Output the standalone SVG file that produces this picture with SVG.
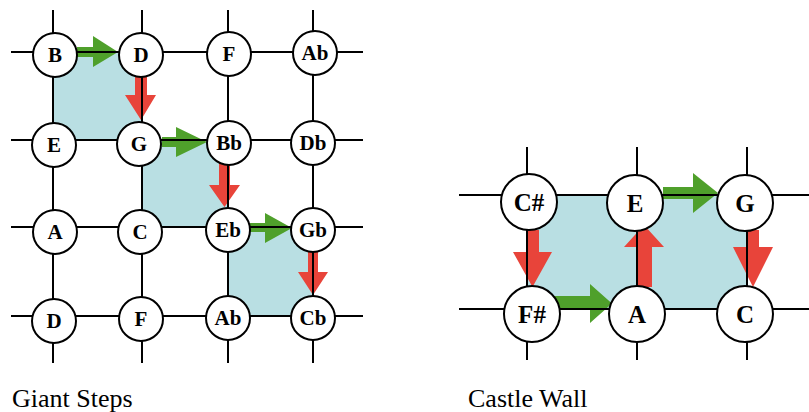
<svg xmlns="http://www.w3.org/2000/svg" width="809" height="412" viewBox="0 0 809 412">
<style>
.bg{fill:#ffffff}
.shade{fill:#b9dfe3}
.grid{stroke:#000;stroke-width:2;fill:none}
.green{fill:#4fa02b}
.red{fill:#e8443a}
.node circle{fill:#fff;stroke:#000;stroke-width:2}
.lbl{font-family:'Liberation Serif','Times New Roman',serif;font-weight:bold;text-anchor:middle;fill:#000}
.sm{font-size:21px}
.lg{font-size:25px}
.cap{font-family:'Liberation Serif','Times New Roman',serif;font-size:26px;fill:#000}
</style>
<rect class="bg" x="0" y="0" width="809" height="412"/>
<g id="shading">
<rect class="shade" x="53" y="52" width="89" height="88"/>
<rect class="shade" x="142" y="140" width="86" height="87"/>
<rect class="shade" x="228" y="227" width="85" height="89"/>
<rect class="shade" x="527" y="195" width="220" height="114"/>
</g>
<g id="connectors">
<polygon class="green" points="77,47 93,47 93,36 118,52 93,67 93,57 77,57"/>
<polygon class="red" points="135,77 147,77 147,95 156,95 141,120 125,95 135,95"/>
<polygon class="green" points="162,137 176,137 176,127 207,142 176,157 176,147 162,147"/>
<polygon class="red" points="219,158 230,158 230,185 240,185 224.5,207 209,185 219,185"/>
<polygon class="green" points="250,223 265,223 265,213 292,228 265,243 265,232 250,232"/>
<polygon class="red" points="308,252 318,252 318,272 328,272 313,295 298,272 308,272"/>
<polygon class="red" points="527,230 539,230 539,252 552,252 532.5,287 513,252 527,252"/>
<polygon class="green" points="553,296 590,296 590,284 612,303.5 590,323 590,309 553,309"/>
<polygon class="red" points="637,287 652,287 652,247 664,247 644,225 624,247 637,247"/>
<polygon class="green" points="663,187 693,187 693,173 718,193 693,213 693,199 663,199"/>
<polygon class="red" points="747,230 759,230 759,247 773,247 753,287 733,247 747,247"/>
<g class="grid">
<path d="M11,52H363M11,140H363M11,227H363M11,316H363"/>
<path d="M53,10V363M142,10V363M228,10V363M313,10V363"/>
<path d="M459,195H809M459,309H809"/>
<path d="M527,147V360M637,147V360M747,147V360"/>
</g>
</g>
<g id="n-B" class="node"><circle cx="55" cy="55" r="22"/><text class="lbl sm" x="55" y="62">B</text></g>
<g id="n-D1" class="node"><circle cx="141" cy="55" r="22"/><text class="lbl sm" x="141" y="62">D</text></g>
<g id="n-F1" class="node"><circle cx="229" cy="54" r="22"/><text class="lbl sm" x="229" y="61">F</text></g>
<g id="n-Ab1" class="node"><circle cx="315" cy="53" r="22"/><text class="lbl sm" x="315" y="60">Ab</text></g>
<g id="n-E1" class="node"><circle cx="54" cy="145" r="22"/><text class="lbl sm" x="54" y="152">E</text></g>
<g id="n-G1" class="node"><circle cx="139" cy="144" r="22"/><text class="lbl sm" x="139" y="151">G</text></g>
<g id="n-Bb" class="node"><circle cx="229" cy="143" r="22"/><text class="lbl sm" x="229" y="150">Bb</text></g>
<g id="n-Db" class="node"><circle cx="313" cy="143" r="22"/><text class="lbl sm" x="313" y="150">Db</text></g>
<g id="n-A1" class="node"><circle cx="55" cy="232" r="22"/><text class="lbl sm" x="55" y="239">A</text></g>
<g id="n-C1" class="node"><circle cx="140" cy="232" r="22"/><text class="lbl sm" x="140" y="239">C</text></g>
<g id="n-Eb" class="node"><circle cx="228" cy="230" r="22"/><text class="lbl sm" x="228" y="237">Eb</text></g>
<g id="n-Gb" class="node"><circle cx="313" cy="230" r="22"/><text class="lbl sm" x="313" y="237">Gb</text></g>
<g id="n-D2" class="node"><circle cx="54" cy="321" r="22"/><text class="lbl sm" x="54" y="328">D</text></g>
<g id="n-F2" class="node"><circle cx="141" cy="319" r="22"/><text class="lbl sm" x="141" y="326">F</text></g>
<g id="n-Ab2" class="node"><circle cx="228" cy="318" r="22"/><text class="lbl sm" x="228" y="325">Ab</text></g>
<g id="n-Cb" class="node"><circle cx="313" cy="318" r="22"/><text class="lbl sm" x="313" y="325">Cb</text></g>
<g id="n-Cs" class="node"><circle cx="529" cy="202" r="28"/><text class="lbl lg" x="529" y="211">C#</text></g>
<g id="n-E2" class="node"><circle cx="635" cy="203" r="28"/><text class="lbl lg" x="635" y="212">E</text></g>
<g id="n-G2" class="node"><circle cx="745" cy="203" r="28"/><text class="lbl lg" x="745" y="212">G</text></g>
<g id="n-Fs" class="node"><circle cx="532" cy="314" r="28"/><text class="lbl lg" x="532" y="323">F#</text></g>
<g id="n-A2" class="node"><circle cx="637" cy="314" r="28"/><text class="lbl lg" x="637" y="323">A</text></g>
<g id="n-C2" class="node"><circle cx="745" cy="314" r="28"/><text class="lbl lg" x="745" y="323">C</text></g>
<text class="cap" x="12" y="407">Giant Steps</text>
<text class="cap" x="468" y="407">Castle Wall</text>
</svg>
